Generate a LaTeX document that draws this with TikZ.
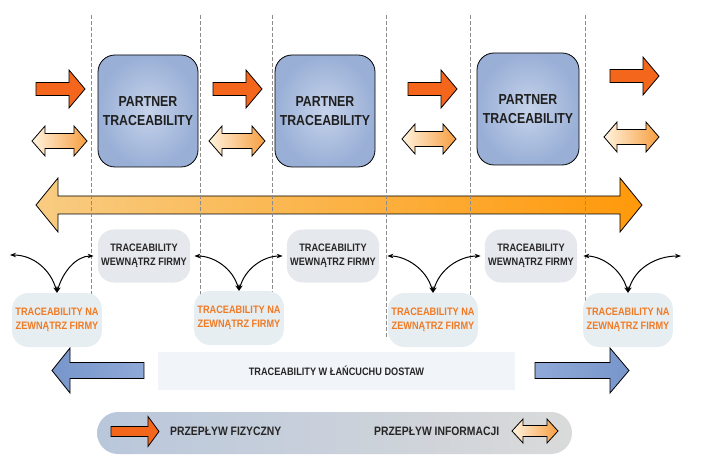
\documentclass[tikz,border=0pt]{standalone}
\usepackage{fontspec}
\newfontfamily\narrowsans[FakeStretch=0.85]{Liberation Sans}
\usepackage{tikz}
\usetikzlibrary{arrows.meta,positioning,shapes}

\definecolor{flowred}{HTML}{F4661B}
\definecolor{infolight}{HTML}{FFF3DE}
\definecolor{infodark}{HTML}{F79E40}
\definecolor{bigleft}{HTML}{F8CC82}
\definecolor{bigright}{HTML}{FF990A}
\definecolor{partnerlight}{HTML}{C6D3EB}
\definecolor{partnerdark}{HTML}{99AFD6}
\definecolor{chainblue}{HTML}{7896CB}
\definecolor{chainpale}{HTML}{E6EBD8}
\definecolor{chainend}{HTML}{8FA9D7}
\definecolor{firmgray}{HTML}{E5E8ED}
\definecolor{extgray}{HTML}{E7EEF1}
\definecolor{exttext}{HTML}{F07A24}
\definecolor{chainfill}{HTML}{F1F5FA}
\definecolor{legendleft}{HTML}{B9C7DB}
\definecolor{legendmid}{HTML}{D5D9DF}
\definecolor{legendright}{HTML}{DADADA}

% block arrow: tail x, tip x, head base x, y, shaft half width, head half width
\newcommand{\blockarrow}[7][]{%
  \draw[#1] (#2,#5-#6) -- (#4,#5-#6) -- (#4,#5-#7) -- (#3,#5)
    -- (#4,#5+#7) -- (#4,#5+#6) -- (#2,#5+#6) -- cycle;}
% two-headed block arrow: left tip x, right tip x, head length, y, shaft half width, head half width
\newcommand{\twinarrow}[7][]{%
  \draw[#1] (#2,#5) -- (#2+#4,#5+#7) -- (#2+#4,#5+#6) -- (#3-#4,#5+#6)
    -- (#3-#4,#5+#7) -- (#3,#5) -- (#3-#4,#5-#7) -- (#3-#4,#5-#6)
    -- (#2+#4,#5-#6) -- (#2+#4,#5-#7) -- cycle;}

\begin{document}
\begin{tikzpicture}[
    x=1pt,y=1pt,
    partner/.style={rectangle,draw=black,line width=0.8pt,rounded corners=17pt,
                    minimum width=100pt,minimum height=112pt,align=center,
                    inner color=partnerlight,outer color=partnerdark,text=black!88,
                    font=\narrowsans\bfseries\fontsize{14.5}{18.5}\selectfont},
    insidebox/.style={rectangle,rounded corners=16pt,fill=firmgray,
                      minimum width=88pt,minimum height=53pt,align=center,text=black!85,
                      font=\narrowsans\bfseries\fontsize{10.8}{14}\selectfont},
    outsidebox/.style={rectangle,rounded corners=16pt,fill=extgray,
                       minimum width=87pt,minimum height=54pt,align=center,text=exttext,
                       font=\narrowsans\bfseries\fontsize{10.8}{14}\selectfont},
    chainbox/.style={rectangle,fill=chainfill,minimum width=357pt,minimum height=38pt,
                     text=black!85,font=\narrowsans\bfseries\fontsize{10.8}{13}\selectfont},
    legendbar/.style={rectangle,rounded corners=21pt,minimum width=475pt,minimum height=42pt,
                      left color=legendleft,middle color=legendmid,right color=legendright},
    legendtext/.style={inner sep=0pt,anchor=west,text=black!85,
                       font=\narrowsans\bfseries\fontsize{12.2}{14}\selectfont},
    flow/.style={draw=black,line width=0.8pt,fill=flowred},
    info/.style={draw=black,line width=0.8pt,left color=infolight,right color=infodark},
    bigflow/.style={draw=black,line width=0.8pt,left color=bigleft,right color=bigright},
    chainL/.style={draw=black,line width=0.8pt,left color=chainblue,middle color=chainpale,right color=chainend},
    chainR/.style={draw=black,line width=0.8pt,left color=chainend,middle color=chainpale,right color=chainblue},
    guide/.style={draw=black!45,dashed,dash pattern=on 4pt off 2pt,line width=0.5pt},
    arr/.style={{Stealth[length=6pt,width=4.5pt]}-{Stealth[length=6pt,width=4.5pt]},
                line width=1pt,shorten >=4pt}
]
\useasboundingbox (0,0) rectangle (712,464);

% supply chain arrow and guides
\twinarrow[bigflow]{36}{642}{22}{259}{9}{27}
\foreach \gx/\gy in {91/169,200/169,272/172,386/127,470/169,585/127}
  \draw[guide] (\gx,449) -- (\gx,\gy);

% partners
\node[partner] (p1) at (148,353) {PARTNER\\TRACEABILITY};
\node[partner] (p2) at (325,353) {PARTNER\\TRACEABILITY};
\node[partner,minimum width=102pt] (p3) at (528,355) {PARTNER\\TRACEABILITY};

% physical and information flows
\blockarrow[flow]{36}{85}{69}{375}{6.5}{19}
\blockarrow[flow]{213}{262}{246}{375}{6.5}{19}
\blockarrow[flow]{408}{457}{441}{375}{6.5}{19}
\blockarrow[flow]{610}{659}{643}{388}{6.5}{19}
\twinarrow[info]{32}{87}{13}{323}{7.5}{15}
\twinarrow[info]{209}{265}{13}{323}{7.5}{15}
\twinarrow[info]{402}{456}{13}{325}{7.5}{15}
\twinarrow[info]{604}{659}{13}{327}{7.5}{15}

% internal / external traceability
\node[insidebox] (in1) at (144,208) {TRACEABILITY\\WEWNĄTRZ FIRMY};
\node[insidebox] (in2) at (333,208) {TRACEABILITY\\WEWNĄTRZ FIRMY};
\node[insidebox] (in3) at (531,208) {TRACEABILITY\\WEWNĄTRZ FIRMY};
\node[outsidebox] (out1) at (57,144) {TRACEABILITY NA\\ZEWNĄTRZ FIRMY};
\node[outsidebox] (out2) at (239,146) {TRACEABILITY NA\\ZEWNĄTRZ FIRMY};
\node[outsidebox] (out3) at (433,144) {TRACEABILITY NA\\ZEWNĄTRZ FIRMY};
\node[outsidebox] (out4) at (628,144) {TRACEABILITY NA\\ZEWNĄTRZ FIRMY};
\coordinate (endL) at (10,209);
\coordinate (endR) at (681,208);

\draw[arr,shorten >=0pt] (out1.north) to[out=105,in=0] (endL);
\draw[arr] (out1.north) to[out=75,in=180] (in1.west);
\draw[arr] (out2.north) to[out=105,in=0] (in1.east);
\draw[arr] (out2.north) to[out=75,in=180] (in2.west);
\draw[arr,shorten >=8pt] (out3.north) to[out=105,in=0] (in2.east);
\draw[arr] (out3.north) to[out=75,in=180] (in3.west);
\draw[arr,shorten >=6pt] (out4.north) to[out=105,in=0] (in3.east);
\draw[arr,shorten >=0pt] (out4.north) to[out=75,in=180] (endR);

% supply chain
\node[chainbox] (chain) at (336.5,93) {TRACEABILITY W ŁAŃCUCHU DOSTAW};
\blockarrow[chainL]{144}{52}{70}{93.5}{8}{22.5}
\blockarrow[chainR]{535}{629}{610}{93.5}{8}{22.5}

% legend
\node[legendbar] (legend) at (334.5,31) {};
\blockarrow[flow]{111}{159}{148}{32.5}{5}{15}
\node[legendtext] (fiz) at (170,33) {PRZEPŁYW FIZYCZNY};
\node[legendtext] (inf) at (374,33) {PRZEPŁYW INFORMACJI};
\twinarrow[info]{512}{558}{11}{33}{5.5}{12}
\end{tikzpicture}
\end{document}
